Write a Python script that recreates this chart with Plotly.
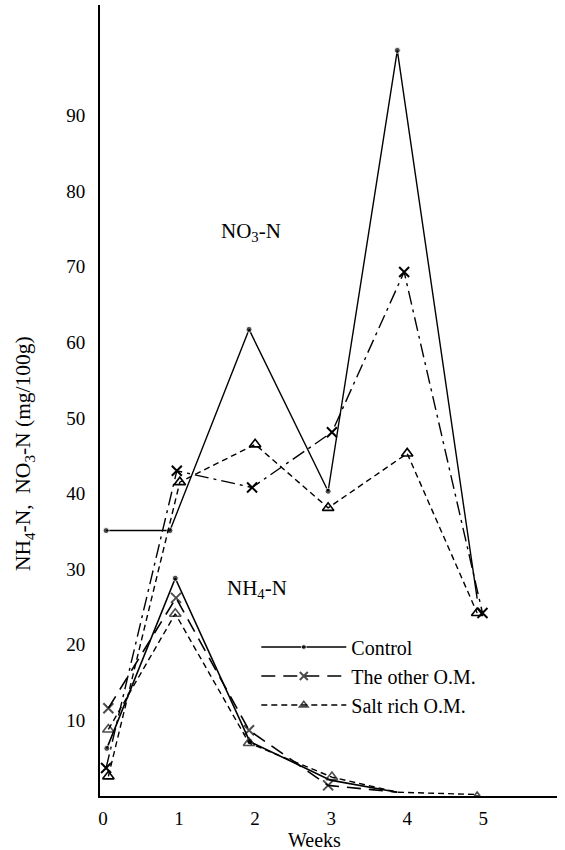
import plotly.graph_objects as go

# ---- data ----
weeks_ticks = [0, 1, 2, 3, 4, 5]
y_ticks = [10, 20, 30, 40, 50, 60, 70, 80, 90]

ctrl_no3_x = [0.04, 0.88, 1.92, 2.96, 3.87, 4.92]
ctrl_no3_y = [35.1, 35.1, 61.7, 40.3, 98.6, 26.1]
other_no3_x = [0.04, 0.97, 1.96, 3.01, 3.96, 4.99]
other_no3_y = [3.7, 43.0, 40.8, 48.1, 69.3, 24.2]
salt_no3_x = [0.07, 1.01, 2.00, 2.96, 4.00, 4.92]
salt_no3_y = [2.6, 41.5, 46.5, 38.1, 45.3, 24.2]

ctrl_nh4_x = [0.05, 0.95, 1.93, 2.99, 3.87]
ctrl_nh4_y = [6.3, 28.8, 7.2, 2.1, 0.5]
other_nh4_x = [0.07, 0.96, 1.92, 2.96, 3.87]
other_nh4_y = [11.6, 26.2, 8.7, 1.4, 0.5]
salt_nh4_x = [0.07, 0.95, 1.92, 3.01, 3.87, 4.92]
salt_nh4_y = [8.8, 24.1, 7.0, 2.5, 0.5, 0.2]

FONT = "Liberation Serif, Times New Roman, serif"
BLACK = "#000000"

fig = go.Figure()

ctrl_marker = dict(symbol="circle", size=6, color=BLACK)
other_marker = dict(symbol="x-thin-open", size=10, line=dict(width=2, color=BLACK), color=BLACK)
salt_marker = dict(symbol="triangle-up-open", size=10, line=dict(width=1.6, color=BLACK), color=BLACK)

# NO3 traces
fig.add_trace(go.Scatter(x=ctrl_no3_x, y=ctrl_no3_y, mode="lines+markers", name="Control",
                         line=dict(color=BLACK, width=1.4),
                         marker=dict(ctrl_marker, size=[6, 6, 6, 6, 6, 0]), legendrank=1))
fig.add_trace(go.Scatter(x=other_no3_x, y=other_no3_y, mode="lines+markers", name="The other O.M.",
                         line=dict(color=BLACK, width=1.4, dash="14px,5px,3px,5px"),
                         marker=other_marker, showlegend=False))
fig.add_trace(go.Scatter(x=salt_no3_x, y=salt_no3_y, mode="lines+markers", name="Salt rich O.M.",
                         line=dict(color=BLACK, width=1.4, dash="6px,4px"),
                         marker=salt_marker, showlegend=False))

# NH4 traces
fig.add_trace(go.Scatter(x=ctrl_nh4_x, y=ctrl_nh4_y, mode="lines+markers", name="Control",
                         line=dict(color=BLACK, width=1.6),
                         marker=dict(ctrl_marker, size=[6, 6, 6, 0, 0]), showlegend=False))
fig.add_trace(go.Scatter(x=other_nh4_x, y=other_nh4_y, mode="lines+markers", name="The other O.M.",
                         line=dict(color=BLACK, width=1.6, dash="14px,8px"),
                         marker=dict(other_marker, size=[10, 10, 10, 10, 0]), legendrank=2))
fig.add_trace(go.Scatter(x=salt_nh4_x, y=salt_nh4_y, mode="lines+markers", name="Salt rich O.M.",
                         line=dict(color=BLACK, width=1.4, dash="6px,4px"),
                         marker=dict(salt_marker, size=[10, 10, 10, 10, 0, 5]), legendrank=3))

fig.add_annotation(x=1.95, y=74.6, text="NO<sub>3</sub>-N", showarrow=False,
                   font=dict(family=FONT, size=21, color=BLACK))
fig.add_annotation(x=2.02, y=27.4, text="NH<sub>4</sub>-N", showarrow=False,
                   font=dict(family=FONT, size=21, color=BLACK))

# axis titles as annotations (positioned like the reference)
fig.add_annotation(xref="paper", yref="paper", x=0.47, y=-0.056, text="Weeks",
                   showarrow=False, font=dict(family=FONT, size=20, color=BLACK),
                   xanchor="center", yanchor="middle")
fig.add_annotation(xref="paper", yref="paper", x=-0.165, y=0.433,
                   text="NH<sub>4</sub>-N,  NO<sub>3</sub>-N (mg/100g)", textangle=-90,
                   showarrow=False, font=dict(family=FONT, size=21.5, color=BLACK),
                   xanchor="center", yanchor="middle")

fig.update_layout(
    width=565, height=850,
    margin=dict(l=100, r=8, t=5, b=54),
    paper_bgcolor="white", plot_bgcolor="white",
    font=dict(family=FONT, size=19, color=BLACK),
    showlegend=True,
    legend=dict(x=0.342, y=0.213, xanchor="left", yanchor="top",
                bgcolor="rgba(0,0,0,0)", font=dict(family=FONT, size=20, color=BLACK),
                itemwidth=85, traceorder="normal"),
)
fig.update_xaxes(range=[-0.04, 5.97], tickvals=weeks_ticks, showgrid=False, zeroline=False,
                 showline=True, linecolor=BLACK, linewidth=2,
                 ticks="outside", ticklen=4, tickcolor="rgba(0,0,0,0)",
                 tickfont=dict(family=FONT, size=19, color=BLACK))
fig.update_yaxes(range=[0, 104.6], tickvals=y_ticks, showgrid=False, zeroline=False,
                 showline=True, linecolor=BLACK, linewidth=2,
                 ticks="outside", ticklen=9, tickcolor="rgba(0,0,0,0)",
                 tickfont=dict(family=FONT, size=19, color=BLACK))

fig.write_html("out.html", config={"displayModeBar": False},
               post_script="document.body.style.margin='0';")
